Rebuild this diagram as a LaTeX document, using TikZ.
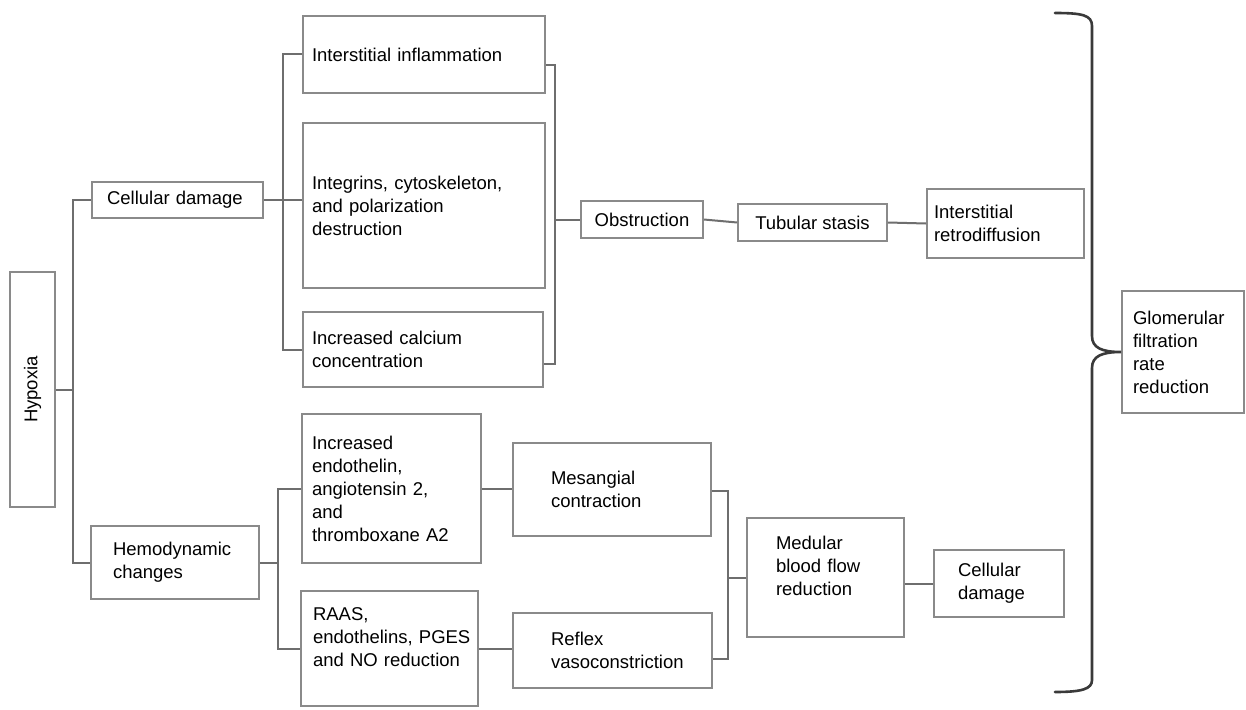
\documentclass[tikz,border=0pt]{standalone}
\usepackage{fontspec}
\setmainfont{Liberation Sans}
\definecolor{boxgray}{HTML}{8A8A8A}
\definecolor{linegray}{HTML}{6E6E6E}
\definecolor{bracedark}{HTML}{3A3A3A}
\begin{document}
\begin{tikzpicture}[x=1pt,y=-1pt,
  box/.style={draw=boxgray, line width=1.8pt, rectangle, inner ysep=2pt, align=left,
    font={\fontsize{18.5}{23}\selectfont\hyphenpenalty=10000\exhyphenpenalty=10000}},
  conn/.style={draw=linegray, line width=2pt},
  bracestyle/.style={draw=bracedark, line width=2.6pt, line cap=round}]
\fill[white] (0,0) rectangle (1246,709);
\useasboundingbox (0,0) rectangle (1246,709);

% left column
\node[box, rotate=90, minimum width=235pt, minimum height=45pt, align=center] (hyp) at (32.5,389.5) {Hypoxia};
\node[box, minimum width=171pt, minimum height=36pt, inner xsep=15pt, text width=141pt] (cd1) at (177.5,200) {Cellular~damage};
\node[box, minimum width=168pt, minimum height=73pt, inner xsep=22pt, text width=124pt] (hd) at (175,562.5) {Hemodynamic\\changes};

% upper branch
\node[box, minimum width=242pt, minimum height=77pt, inner xsep=9pt, text width=224pt] (ii) at (424,54.5) {Interstitial inflammation};
\node[box, minimum width=242pt, minimum height=165pt, inner xsep=9pt, text width=224pt] (ig) at (424,205.5) {Integrins, cytoskeleton,\\and polarization\\destruction};
\node[box, minimum width=240pt, minimum height=75pt, inner xsep=9pt, text width=222pt] (ic) at (423,349.5) {Increased calcium\\concentration};
\node[box, minimum width=122pt, minimum height=37pt, align=center] (ob) at (642,219.5) {Obstruction};
\node[box, minimum width=149pt, minimum height=37pt, align=center] (ts) at (812.5,222.5) {Tubular stasis};
\node[box, minimum width=157pt, minimum height=69pt, inner xsep=7pt, text width=143pt] (ir) at (1005.5,223.5) {Interstitial\\retrodiffusion};
\node[box, minimum width=122pt, minimum height=122pt, inner xsep=11pt, text width=100pt] (gfr) at (1183,352) {Glomerular\\filtration\\rate\\reduction};

% lower branch
\node[box, minimum width=179pt, minimum height=149pt, inner xsep=10pt, text width=159pt] (en) at (391.5,488.5) {Increased\\endothelin,\\angiotensin 2,\\and\\thromboxane A2};
\node[box, minimum width=177pt, minimum height=115pt, inner xsep=12pt, text width=153pt] (ra) at (389.5,648.5) {RAAS,\\endothelins,~PGES\\and~NO~reduction\\\mbox{}};
\node[box, minimum width=198pt, minimum height=93pt, inner xsep=38pt, text width=122pt] (mc) at (612,489.5) {Mesangial\\contraction};
\node[box, minimum width=199pt, minimum height=75pt, inner xsep=38pt, text width=123pt] (rv) at (612.5,650.5) {Reflex\\vasoconstriction};
\node[box, minimum width=157pt, minimum height=119pt, inner xsep=29pt, text width=99pt] (mb) at (825.5,577.5) {Medular\\blood~flow\\reduction\\\mbox{}};
\node[box, minimum width=130pt, minimum height=67pt, inner xsep=24pt, text width=82pt] (cd2) at (999,583.5) {Cellular\\damage};

% junctions
\coordinate (j1) at (73,389.5);
\coordinate (j2) at (283,200);
\coordinate (j3) at (555,219.5);
\coordinate (j4) at (278,562.5);
\coordinate (j5) at (728,577.5);
\coordinate (bt) at (1055,13);
\coordinate (bb) at (1055,692);

% connectors
\draw[conn] (hyp) -- (j1);
\draw[conn] (cd1.west) -| (j1) |- (hd.west);
\draw[conn] (cd1.east) -- (j2);
\draw[conn] (ii.west) -| (j2) |- (ic.west);
\draw[conn] (j2) -- (ig.west |- j2);
\draw[conn] ([yshift=-10.5pt]ii.east) -| (j3) |- ([yshift=-14.5pt]ic.east);
\draw[conn] (j3) -- (ob.west);
\draw[conn] (ob.east) -- (ts.west);
\draw[conn] (ts.east) -- (ir.west);
\draw[conn] (hd.east) -- (j4);
\draw[conn] (en.west) -| (j4) |- (ra.west);
\draw[conn] (en.east) -- (en.east -| mc.west);
\draw[conn] (ra.east) -- (ra.east -| rv.west);
\draw[conn] ([yshift=-1.5pt]mc.east) -| (j5) |- ([yshift=-8.5pt]rv.east);
\draw[conn] (j5) -- (mb.west);
\draw[conn] (mb.east |- cd2.west) -- (cd2.west);

% brace
\draw[bracestyle] (bt) .. controls (1082,13) and (1092,15) .. (1092,26) -- (1092,336)
  .. controls (1092,348) and (1102,352) .. (gfr.west)
  .. controls (1102,352) and (1092,356) .. (1092,368) -- (1092,680)
  .. controls (1092,689) and (1082,692) .. (bb);
\end{tikzpicture}
\end{document}
